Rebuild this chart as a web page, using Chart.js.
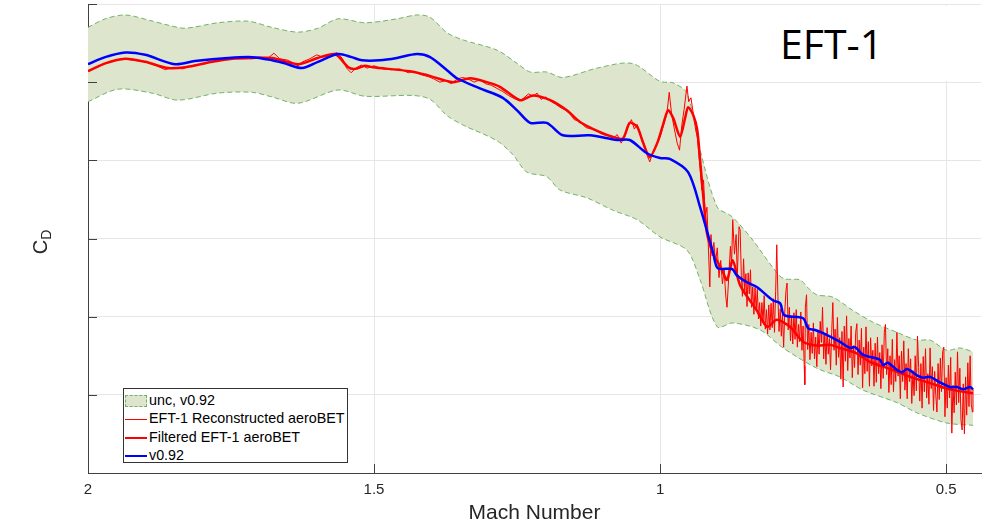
<!DOCTYPE html>
<html>
<head>
<meta charset="utf-8">
<script src="https://cdn.jsdelivr.net/npm/chart.js@4.4.0/dist/chart.umd.min.js"></script>
<style>
  html, body { margin: 0; padding: 0; background: #fff; }
  #wrap { position: relative; width: 990px; height: 526px; overflow: hidden; }
  #cdChart { position: absolute; left: 0; top: 0; }
  #tag { position: absolute; left: 763px; top: 6px; width: 202px; height: 75px; background: #fff; }
  #tag span { position: absolute; left: 17px; top: 17px; font-family: 'Open Sans', sans-serif;
              font-size: 41px; line-height: 41px; color: #000; }
  #ylab { position: absolute; left: 20px; top: 230px; width: 40px; height: 24px; transform: rotate(-90deg);
          font-family: 'Liberation Sans', Arial, sans-serif; font-size: 20px; line-height: 24px;
          color: #262626; text-align: center; }
  #ylab sub { font-size: 14px; vertical-align: -4px; }
  #legend { position: absolute; left: 123px; top: 388px; width: 225px; height: 75px; background: #fff;
            border: 1px solid #333; padding-top: 2px; box-sizing: border-box;
            font-family: 'Liberation Sans', Arial, sans-serif; font-size: 14.3px; color: #000; }
  #legend .row { height: 18.3px; line-height: 18.3px; white-space: nowrap; }
  #legend .sw { display: inline-block; width: 22px; margin: 0 2px 0 1px; vertical-align: middle; }
</style>
</head>
<body>
<div id="wrap">
  <canvas id="cdChart" width="990" height="526"></canvas>
  <div id="tag"><span>EFT-1</span></div>
  <div id="ylab">C<sub>D</sub></div>
  <div id="legend"></div>
</div>
<script>
// axis ticks (no y labels shown in the original)
const xTicks = [2, 1.5, 1, 0.5];
const yTicks = [0.9, 1.0, 1.1, 1.2, 1.3, 1.4, 1.5];

// uncertainty band, v0.92
const machBandUpper = [2.000,1.970,1.935,1.892,1.860,1.830,1.773,1.720,1.678,1.633,1.598,1.563,1.516,1.460,1.425,1.402,1.372,1.344,1.285,1.250,1.227,1.198,1.170,1.110,1.049,1.000,0.977,0.953,0.930,0.900,0.878,0.866,0.838,0.803,0.785,0.755,0.743,0.726,0.698,0.663,0.628,0.586,0.551,0.528,0.499,0.476,0.453];
const cdBandUpper   = [1.470,1.481,1.486,1.479,1.473,1.469,1.476,1.478,1.470,1.464,1.469,1.481,1.476,1.481,1.486,1.483,1.463,1.454,1.441,1.424,1.413,1.413,1.406,1.418,1.424,1.401,1.399,1.386,1.313,1.240,1.230,1.222,1.198,1.163,1.149,1.147,1.138,1.128,1.125,1.108,1.093,1.080,1.070,1.070,1.057,1.060,1.055];
const machBandLower = [2.000,1.948,1.888,1.843,1.773,1.713,1.678,1.633,1.563,1.516,1.432,1.402,1.372,1.344,1.285,1.257,1.233,1.198,1.175,1.128,1.082,1.040,1.000,0.953,0.930,0.900,0.873,0.825,0.785,0.726,0.686,0.645,0.586,0.551,0.499,0.453];
const cdBandLower   = [1.375,1.391,1.386,1.377,1.386,1.387,1.381,1.373,1.390,1.382,1.383,1.378,1.357,1.345,1.325,1.307,1.285,1.279,1.262,1.252,1.236,1.224,1.202,1.185,1.147,1.087,1.092,1.083,1.060,1.034,1.023,1.006,0.990,0.977,0.964,0.961];

// v0.92 database
const machV092 = [2.000,1.970,1.935,1.900,1.848,1.813,1.755,1.713,1.678,1.656,1.626,1.598,1.563,1.539,1.521,1.490,1.460,1.425,1.402,1.372,1.355,1.315,1.275,1.250,1.227,1.198,1.170,1.123,1.075,1.053,1.023,1.000,0.983,0.951,0.930,0.907,0.899,0.874,0.866,0.848,0.831,0.803,0.790,0.783,0.750,0.741,0.729,0.715,0.686,0.668,0.659,0.645,0.616,0.610,0.602,0.586,0.577,0.568,0.551,0.540,0.528,0.511,0.493,0.481,0.470,0.458,0.453];
const cdV092   = [1.423,1.432,1.438,1.435,1.423,1.427,1.431,1.432,1.428,1.424,1.418,1.426,1.436,1.432,1.428,1.428,1.431,1.436,1.432,1.415,1.405,1.392,1.380,1.364,1.348,1.348,1.332,1.332,1.326,1.326,1.309,1.303,1.302,1.285,1.240,1.181,1.162,1.161,1.153,1.144,1.138,1.121,1.117,1.102,1.098,1.085,1.083,1.079,1.068,1.060,1.061,1.051,1.045,1.038,1.041,1.032,1.029,1.033,1.025,1.022,1.023,1.016,1.010,1.010,1.007,1.010,1.007];

// filtered EFT-1 aeroBET
const machFiltered = [2.000,1.970,1.935,1.900,1.860,1.830,1.783,1.748,1.713,1.678,1.633,1.598,1.568,1.545,1.533,1.516,1.502,1.437,1.407,1.362,1.332,1.303,1.280,1.245,1.222,1.192,1.163,1.140,1.105,1.082,1.065,1.053,1.040,1.030,1.018,1.005,0.995,0.986,0.977,0.965,0.956,0.951,0.942,0.935,0.930,0.925,0.918,0.909,0.904,0.892,0.883,0.873,0.860,0.831,0.813,0.796,0.773,0.750,0.726,0.703,0.686,0.659,0.633,0.598,0.563,0.528,0.493,0.453];
const cdFiltered   = [1.414,1.424,1.430,1.426,1.418,1.419,1.426,1.430,1.431,1.431,1.423,1.431,1.436,1.419,1.417,1.421,1.419,1.414,1.409,1.400,1.405,1.400,1.394,1.377,1.383,1.377,1.364,1.349,1.336,1.330,1.328,1.348,1.343,1.323,1.304,1.322,1.345,1.364,1.354,1.330,1.355,1.368,1.358,1.339,1.300,1.258,1.207,1.183,1.176,1.160,1.147,1.172,1.140,1.108,1.087,1.096,1.087,1.068,1.063,1.064,1.060,1.054,1.042,1.033,1.023,1.015,1.007,1.002];

// EFT-1 reconstructed aeroBET, [Mach, CD]
const reconstructed = [
  [2.000,1.414],[1.980,1.420],[1.960,1.427],[1.940,1.430],[1.920,1.428],[1.900,1.426],[1.880,1.421],[1.865,1.416],[1.850,1.419],[1.835,1.417],
  [1.820,1.421],[1.800,1.423],[1.785,1.426],[1.770,1.428],[1.750,1.430],[1.730,1.432],[1.715,1.430],[1.700,1.432],[1.685,1.431],[1.675,1.437],
  [1.665,1.430],[1.650,1.428],[1.640,1.424],[1.633,1.421],[1.625,1.426],[1.612,1.430],[1.600,1.435],[1.590,1.432],[1.575,1.434],[1.565,1.438],
  [1.555,1.430],[1.548,1.418],[1.540,1.412],[1.532,1.418],[1.522,1.422],[1.512,1.418],[1.500,1.421],[1.485,1.417],[1.470,1.416],[1.455,1.417],
  [1.440,1.412],[1.430,1.414],[1.420,1.410],[1.405,1.407],[1.395,1.404],[1.385,1.400],[1.375,1.402],[1.365,1.398],[1.355,1.404],[1.345,1.406],
  [1.335,1.404],[1.325,1.400],[1.315,1.403],[1.305,1.398],[1.295,1.396],[1.285,1.392],[1.275,1.388],[1.265,1.383],[1.255,1.379],[1.245,1.376],
  [1.238,1.380],[1.230,1.385],[1.222,1.382],[1.215,1.386],[1.208,1.378],[1.200,1.381],[1.192,1.376],[1.183,1.372],[1.175,1.368],[1.165,1.364],
  [1.158,1.360],[1.150,1.352],[1.140,1.350],[1.130,1.342],[1.120,1.340],[1.110,1.337],[1.100,1.333],[1.090,1.331],[1.082,1.328],[1.075,1.333],
  [1.068,1.322],[1.062,1.330],[1.055,1.345],[1.050,1.352],[1.045,1.340],[1.040,1.346],[1.035,1.334],[1.028,1.322],[1.022,1.305],[1.018,1.298],
  [1.012,1.312],[1.005,1.322],[1.000,1.330],[0.994,1.345],[0.988,1.360],[0.984,1.387],[0.980,1.360],[0.975,1.340],[0.970,1.322],[0.966,1.313],
  [0.962,1.345],[0.958,1.365],[0.953,1.395],[0.950,1.375],[0.946,1.380],[0.942,1.360],[0.938,1.340],[0.935,1.330],[0.930,1.290],[0.927,1.262],
  [0.924,1.275],[0.921,1.228],[0.918,1.240],[0.916,1.198],[0.913,1.138],[0.911,1.205],[0.909,1.178],[0.906,1.195],[0.903,1.170],[0.900,1.188],
  [0.897,1.150],[0.894,1.172],[0.891,1.142],[0.888,1.160],[0.885,1.125],[0.883,1.112],[0.880,1.150],[0.877,1.190],[0.875,1.165],[0.873,1.224],
  [0.870,1.180],[0.867,1.205],[0.865,1.150],[0.862,1.215],[0.860,1.211],[0.858,1.153],[0.856,1.126],[0.854,1.174],[0.852,1.132],[0.850,1.155],
  [0.848,1.113],[0.846,1.156],[0.844,1.129],[0.842,1.160],[0.840,1.112],[0.838,1.138],[0.836,1.103],[0.834,1.137],[0.832,1.108],[0.830,1.135],
  [0.828,1.097],[0.826,1.118],[0.824,1.088],[0.822,1.118],[0.820,1.092],[0.818,1.127],[0.816,1.084],[0.814,1.109],[0.812,1.078],[0.810,1.115],
  [0.808,1.083],[0.806,1.117],[0.804,1.086],[0.802,1.123],[0.800,1.080],[0.798,1.132],[0.796,1.192],[0.794,1.126],[0.792,1.081],[0.790,1.110],
  [0.788,1.075],[0.786,1.104],[0.784,1.061],[0.782,1.106],[0.780,1.133],[0.778,1.143],[0.776,1.083],[0.774,1.112],[0.772,1.069],[0.770,1.099],
  [0.768,1.065],[0.766,1.105],[0.764,1.071],[0.762,1.109],[0.760,1.061],[0.758,1.090],[0.756,1.068],[0.754,1.106],[0.752,1.057],[0.750,1.088],
  [0.748,1.037],[0.747,1.013],[0.746,1.112],[0.744,1.128],[0.742,1.058],[0.740,1.090],[0.738,1.045],[0.736,1.080],[0.734,1.053],[0.732,1.092],
  [0.730,1.046],[0.728,1.074],[0.726,1.036],[0.724,1.083],[0.722,1.052],[0.720,1.094],[0.718,1.067],[0.716,1.112],[0.714,1.046],[0.712,1.079],
  [0.710,1.039],[0.708,1.086],[0.706,1.052],[0.704,1.072],[0.702,1.032],[0.700,1.080],[0.698,1.118],[0.696,1.057],[0.694,1.084],[0.692,1.038],
  [0.690,1.099],[0.688,1.048],[0.686,1.073],[0.684,1.020],[0.682,1.081],[0.680,1.010],[0.678,1.088],[0.676,1.043],[0.674,1.101],[0.672,1.031],
  [0.670,1.072],[0.668,1.047],[0.666,1.088],[0.664,1.022],[0.662,1.063],[0.660,1.035],[0.658,1.080],[0.656,1.091],[0.654,1.026],[0.652,1.070],
  [0.650,1.038],[0.648,1.085],[0.646,1.009],[0.644,1.061],[0.642,1.027],[0.640,1.087],[0.638,1.030],[0.636,1.068],[0.634,1.011],[0.632,1.073],
  [0.630,1.037],[0.628,1.057],[0.626,1.011],[0.624,1.066],[0.622,1.016],[0.620,1.074],[0.618,1.027],[0.616,1.054],[0.614,1.008],[0.612,1.064],
  [0.610,1.021],[0.608,1.080],[0.606,1.090],[0.604,1.026],[0.602,1.059],[0.600,1.003],[0.598,1.050],[0.596,1.013],[0.594,1.071],[0.592,1.004],
  [0.590,1.045],[0.588,1.017],[0.586,1.080],[0.584,1.024],[0.582,1.050],[0.580,0.995],[0.578,1.056],[0.576,1.017],[0.574,1.069],[0.572,1.006],
  [0.570,1.040],[0.568,0.995],[0.566,1.059],[0.564,1.017],[0.562,1.046],[0.560,0.989],[0.558,1.031],[0.556,0.999],[0.554,1.050],[0.552,1.005],
  [0.550,1.075],[0.548,1.035],[0.546,0.992],[0.544,1.040],[0.542,0.983],[0.540,1.049],[0.538,1.004],[0.536,1.059],[0.534,0.996],[0.532,1.027],
  [0.530,0.988],[0.528,1.060],[0.526,1.008],[0.524,1.036],[0.522,0.980],[0.520,1.030],[0.518,0.999],[0.516,0.978],[0.514,1.040],[0.512,0.994],
  [0.510,1.047],[0.508,1.004],[0.506,1.055],[0.504,1.061],[0.502,0.972],[0.500,1.022],[0.498,0.983],[0.496,1.038],[0.494,0.996],[0.492,1.048],
  [0.490,0.951],[0.488,1.012],[0.486,0.977],[0.484,1.029],[0.482,0.987],[0.480,1.055],[0.478,0.990],[0.476,1.034],[0.474,0.968],[0.472,0.955],
  [0.470,1.014],[0.468,0.950],[0.466,1.023],[0.464,0.974],[0.462,1.041],[0.460,0.985],[0.458,1.050],[0.456,0.988],[0.454,0.978],[0.453,1.008]
];

const zip = (xs, ys) => xs.map((x, i) => ({ x: x, y: ys[i] }));

const BAND_FILL = '#dde5cc';
const BAND_EDGE = '#72b268';
const FONT = "'Liberation Sans', Arial, sans-serif";

// small inward tick marks, MATLAB style
const inwardTicks = {
  id: 'inwardTicks',
  afterDraw(chart) {
    const { ctx, chartArea: a, scales: { x, y } } = chart;
    ctx.save();
    ctx.strokeStyle = '#404040';
    ctx.lineWidth = 1;
    ctx.beginPath();
    xTicks.forEach(v => {
      const px = Math.round(x.getPixelForValue(v)) + 0.5;
      ctx.moveTo(px, a.bottom);
      ctx.lineTo(px, a.bottom - 9);
    });
    yTicks.forEach(v => {
      const py = Math.round(y.getPixelForValue(v)) + 0.5;
      ctx.moveTo(a.left, py);
      ctx.lineTo(a.left + 9, py);
    });
    ctx.stroke();
    ctx.restore();
  }
};

const chart = new Chart(document.getElementById('cdChart'), {
  type: 'line',
  data: {
    datasets: [
      { label: 'v0.92', data: zip(machV092, cdV092), borderColor: '#0000ff', borderWidth: 2.5, tension: 0.3, fill: false },
      { label: 'Filtered EFT-1 aeroBET', data: zip(machFiltered, cdFiltered), borderColor: '#ff0000', borderWidth: 2.5, tension: 0.25, fill: false },
      { label: 'EFT-1 Reconstructed aeroBET', data: reconstructed.map(p => ({ x: p[0], y: p[1] })), borderColor: '#ff0000', borderWidth: 1, tension: 0, fill: false },
      { label: 'unc, v0.92', data: zip(machBandUpper, cdBandUpper), borderColor: BAND_EDGE, borderWidth: 1, borderDash: [5, 3],
        backgroundColor: BAND_FILL, tension: 0.3, fill: '+1' },
      { label: 'unc lower', data: zip(machBandLower, cdBandLower), borderColor: BAND_EDGE, borderWidth: 1, borderDash: [5, 3],
        tension: 0.3, fill: false }
    ]
  },
  options: {
    responsive: false,
    animation: false,
    layout: { padding: { top: 4, right: 9, left: 0, bottom: 0 } },
    elements: { point: { radius: 0 } },
    plugins: {
      legend: { display: false },
      tooltip: { enabled: false },
      filler: { drawTime: 'beforeDatasetsDraw' }
    },
    scales: {
      x: {
        type: 'linear',
        reverse: true,
        min: 0.439,
        max: 2,
        afterBuildTicks: s => { s.ticks = xTicks.map(v => ({ value: v })); },
        afterFit: s => { s.height = 53; },
        grid: { color: '#e6e6e6', drawTicks: false },
        border: { color: '#404040' },
        ticks: { padding: 8, color: '#262626', font: { family: FONT, size: 15 }, callback: v => String(v) },
        title: { display: true, text: 'Mach Number', color: '#262626', font: { family: FONT, size: 21 }, padding: { top: 0, bottom: 0 } }
      },
      y: {
        min: 0.9,
        max: 1.5,
        afterBuildTicks: s => { s.ticks = yTicks.map(v => ({ value: v })); },
        afterFit: s => { s.width = 88; },
        grid: { color: '#e6e6e6', drawTicks: false },
        border: { color: '#404040' },
        ticks: { display: false }
      }
    }
  },
  plugins: [inwardTicks]
});

// legend box inside the plot, built from the datasets
const legendOrder = [3, 2, 1, 0];
const legendEl = document.getElementById('legend');
legendOrder.forEach(i => {
  const ds = chart.data.datasets[i];
  const row = document.createElement('div');
  row.className = 'row';
  const sw = document.createElement('span');
  sw.className = 'sw';
  if (ds.fill) {
    sw.style.height = '12px';
    sw.style.boxSizing = 'border-box';
    sw.style.background = ds.backgroundColor;
    sw.style.border = '1px dashed ' + ds.borderColor;
  } else {
    sw.style.height = ds.borderWidth + 'px';
    sw.style.background = ds.borderColor;
  }
  row.appendChild(sw);
  row.appendChild(document.createTextNode(ds.label));
  legendEl.appendChild(row);
});
</script>
</body>
</html>
